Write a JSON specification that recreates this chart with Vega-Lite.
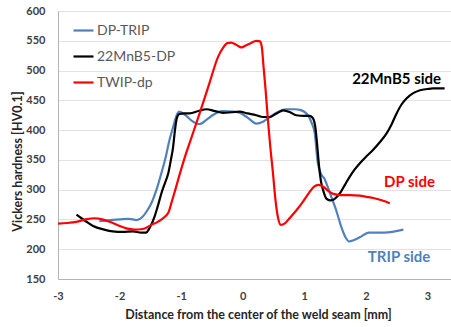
{
  "$schema": "https://vega.github.io/schema/vega-lite/v6.json",
  "width": 394,
  "height": 268,
  "autosize": "none",
  "padding": {"left": 58, "top": 11, "right": 0, "bottom": 48},
  "background": "#ffffff",
  "config": {
    "font": "Lato",
    "view": {"stroke": "#b4b4b4", "strokeWidth": 1},
    "axis": {
      "labelFont": "Lato",
      "labelFontWeight": "bold",
      "labelFontSize": 11,
      "labelColor": "#404040",
      "titleFont": "Lato",
      "titleFontWeight": "bold",
      "titleFontSize": 12.5,
      "titleColor": "#262626",
      "domainColor": "#b4b4b4",
      "ticks": false,
      "gridColor": "#e2e2e2",
      "gridWidth": 1
    },
    "legend": {
      "labelFont": "Lato",
      "labelFontSize": 14,
      "labelColor": "#595959",
      "padding": 0
    }
  },
  "datasets": {
    "hardness": [
      {"series": "DP-TRIP", "d": -2.33, "hv": 247},
      {"series": "DP-TRIP", "d": -2.15, "hv": 249},
      {"series": "DP-TRIP", "d": -2.0, "hv": 250},
      {"series": "DP-TRIP", "d": -1.85, "hv": 251},
      {"series": "DP-TRIP", "d": -1.72, "hv": 249},
      {"series": "DP-TRIP", "d": -1.63, "hv": 254},
      {"series": "DP-TRIP", "d": -1.55, "hv": 265},
      {"series": "DP-TRIP", "d": -1.48, "hv": 278},
      {"series": "DP-TRIP", "d": -1.4, "hv": 300},
      {"series": "DP-TRIP", "d": -1.32, "hv": 328},
      {"series": "DP-TRIP", "d": -1.25, "hv": 355},
      {"series": "DP-TRIP", "d": -1.19, "hv": 383},
      {"series": "DP-TRIP", "d": -1.13, "hv": 405},
      {"series": "DP-TRIP", "d": -1.08, "hv": 423},
      {"series": "DP-TRIP", "d": -1.03, "hv": 431},
      {"series": "DP-TRIP", "d": -0.93, "hv": 425},
      {"series": "DP-TRIP", "d": -0.83, "hv": 416},
      {"series": "DP-TRIP", "d": -0.7, "hv": 410},
      {"series": "DP-TRIP", "d": -0.58, "hv": 418},
      {"series": "DP-TRIP", "d": -0.49, "hv": 425},
      {"series": "DP-TRIP", "d": -0.33, "hv": 432},
      {"series": "DP-TRIP", "d": -0.15, "hv": 431},
      {"series": "DP-TRIP", "d": -0.05, "hv": 429},
      {"series": "DP-TRIP", "d": 0.08, "hv": 421},
      {"series": "DP-TRIP", "d": 0.22, "hv": 411},
      {"series": "DP-TRIP", "d": 0.33, "hv": 414},
      {"series": "DP-TRIP", "d": 0.44, "hv": 422},
      {"series": "DP-TRIP", "d": 0.58, "hv": 431},
      {"series": "DP-TRIP", "d": 0.71, "hv": 435},
      {"series": "DP-TRIP", "d": 0.85, "hv": 435},
      {"series": "DP-TRIP", "d": 0.93, "hv": 434},
      {"series": "DP-TRIP", "d": 1.06, "hv": 425},
      {"series": "DP-TRIP", "d": 1.12, "hv": 412},
      {"series": "DP-TRIP", "d": 1.17, "hv": 395},
      {"series": "DP-TRIP", "d": 1.22, "hv": 345},
      {"series": "DP-TRIP", "d": 1.28, "hv": 325},
      {"series": "DP-TRIP", "d": 1.33, "hv": 318},
      {"series": "DP-TRIP", "d": 1.38, "hv": 305},
      {"series": "DP-TRIP", "d": 1.45, "hv": 285},
      {"series": "DP-TRIP", "d": 1.52, "hv": 265},
      {"series": "DP-TRIP", "d": 1.6, "hv": 238},
      {"series": "DP-TRIP", "d": 1.67, "hv": 220},
      {"series": "DP-TRIP", "d": 1.73, "hv": 213},
      {"series": "DP-TRIP", "d": 1.8, "hv": 215},
      {"series": "DP-TRIP", "d": 1.9, "hv": 220},
      {"series": "DP-TRIP", "d": 2.05, "hv": 228},
      {"series": "DP-TRIP", "d": 2.3, "hv": 228},
      {"series": "DP-TRIP", "d": 2.61, "hv": 233},

      {"series": "22MnB5-DP", "d": -2.7, "hv": 258},
      {"series": "22MnB5-DP", "d": -2.55, "hv": 247},
      {"series": "22MnB5-DP", "d": -2.43, "hv": 239},
      {"series": "22MnB5-DP", "d": -2.25, "hv": 233},
      {"series": "22MnB5-DP", "d": -2.11, "hv": 230},
      {"series": "22MnB5-DP", "d": -1.95, "hv": 229},
      {"series": "22MnB5-DP", "d": -1.78, "hv": 230},
      {"series": "22MnB5-DP", "d": -1.65, "hv": 228},
      {"series": "22MnB5-DP", "d": -1.57, "hv": 228},
      {"series": "22MnB5-DP", "d": -1.51, "hv": 236},
      {"series": "22MnB5-DP", "d": -1.43, "hv": 255},
      {"series": "22MnB5-DP", "d": -1.38, "hv": 272},
      {"series": "22MnB5-DP", "d": -1.32, "hv": 294},
      {"series": "22MnB5-DP", "d": -1.26, "hv": 312},
      {"series": "22MnB5-DP", "d": -1.21, "hv": 327},
      {"series": "22MnB5-DP", "d": -1.17, "hv": 348},
      {"series": "22MnB5-DP", "d": -1.13, "hv": 372},
      {"series": "22MnB5-DP", "d": -1.1, "hv": 400},
      {"series": "22MnB5-DP", "d": -1.07, "hv": 420},
      {"series": "22MnB5-DP", "d": -1.03, "hv": 427},
      {"series": "22MnB5-DP", "d": -0.95, "hv": 428},
      {"series": "22MnB5-DP", "d": -0.86, "hv": 428},
      {"series": "22MnB5-DP", "d": -0.72, "hv": 432},
      {"series": "22MnB5-DP", "d": -0.59, "hv": 435},
      {"series": "22MnB5-DP", "d": -0.45, "hv": 432},
      {"series": "22MnB5-DP", "d": -0.32, "hv": 429},
      {"series": "22MnB5-DP", "d": -0.18, "hv": 430},
      {"series": "22MnB5-DP", "d": -0.05, "hv": 431},
      {"series": "22MnB5-DP", "d": 0.08, "hv": 428},
      {"series": "22MnB5-DP", "d": 0.22, "hv": 425},
      {"series": "22MnB5-DP", "d": 0.33, "hv": 422},
      {"series": "22MnB5-DP", "d": 0.44, "hv": 422},
      {"series": "22MnB5-DP", "d": 0.55, "hv": 428},
      {"series": "22MnB5-DP", "d": 0.66, "hv": 433},
      {"series": "22MnB5-DP", "d": 0.77, "hv": 430},
      {"series": "22MnB5-DP", "d": 0.87, "hv": 425},
      {"series": "22MnB5-DP", "d": 1.0, "hv": 424},
      {"series": "22MnB5-DP", "d": 1.09, "hv": 424},
      {"series": "22MnB5-DP", "d": 1.14, "hv": 420},
      {"series": "22MnB5-DP", "d": 1.18, "hv": 405},
      {"series": "22MnB5-DP", "d": 1.21, "hv": 375},
      {"series": "22MnB5-DP", "d": 1.24, "hv": 340},
      {"series": "22MnB5-DP", "d": 1.27, "hv": 315},
      {"series": "22MnB5-DP", "d": 1.31, "hv": 298},
      {"series": "22MnB5-DP", "d": 1.36, "hv": 285},
      {"series": "22MnB5-DP", "d": 1.42, "hv": 282},
      {"series": "22MnB5-DP", "d": 1.47, "hv": 283},
      {"series": "22MnB5-DP", "d": 1.53, "hv": 288},
      {"series": "22MnB5-DP", "d": 1.58, "hv": 294},
      {"series": "22MnB5-DP", "d": 1.66, "hv": 308},
      {"series": "22MnB5-DP", "d": 1.74, "hv": 322},
      {"series": "22MnB5-DP", "d": 1.82, "hv": 334},
      {"series": "22MnB5-DP", "d": 1.9, "hv": 344},
      {"series": "22MnB5-DP", "d": 2.0, "hv": 355},
      {"series": "22MnB5-DP", "d": 2.12, "hv": 367},
      {"series": "22MnB5-DP", "d": 2.23, "hv": 380},
      {"series": "22MnB5-DP", "d": 2.34, "hv": 395},
      {"series": "22MnB5-DP", "d": 2.42, "hv": 410},
      {"series": "22MnB5-DP", "d": 2.5, "hv": 428},
      {"series": "22MnB5-DP", "d": 2.58, "hv": 443},
      {"series": "22MnB5-DP", "d": 2.66, "hv": 453},
      {"series": "22MnB5-DP", "d": 2.77, "hv": 462},
      {"series": "22MnB5-DP", "d": 2.88, "hv": 467},
      {"series": "22MnB5-DP", "d": 3.0, "hv": 469},
      {"series": "22MnB5-DP", "d": 3.09, "hv": 470},
      {"series": "22MnB5-DP", "d": 3.28, "hv": 470},

      {"series": "TWIP-dp", "d": -3.0, "hv": 243},
      {"series": "TWIP-dp", "d": -2.85, "hv": 244},
      {"series": "TWIP-dp", "d": -2.7, "hv": 246},
      {"series": "TWIP-dp", "d": -2.55, "hv": 250},
      {"series": "TWIP-dp", "d": -2.4, "hv": 252},
      {"series": "TWIP-dp", "d": -2.28, "hv": 250},
      {"series": "TWIP-dp", "d": -2.16, "hv": 246},
      {"series": "TWIP-dp", "d": -2.02, "hv": 240},
      {"series": "TWIP-dp", "d": -1.89, "hv": 235},
      {"series": "TWIP-dp", "d": -1.76, "hv": 233},
      {"series": "TWIP-dp", "d": -1.62, "hv": 234},
      {"series": "TWIP-dp", "d": -1.48, "hv": 241},
      {"series": "TWIP-dp", "d": -1.38, "hv": 246},
      {"series": "TWIP-dp", "d": -1.27, "hv": 254},
      {"series": "TWIP-dp", "d": -1.2, "hv": 263},
      {"series": "TWIP-dp", "d": -1.16, "hv": 277},
      {"series": "TWIP-dp", "d": -1.1, "hv": 298},
      {"series": "TWIP-dp", "d": -1.02, "hv": 327},
      {"series": "TWIP-dp", "d": -0.92, "hv": 361},
      {"series": "TWIP-dp", "d": -0.83, "hv": 388},
      {"series": "TWIP-dp", "d": -0.7, "hv": 428},
      {"series": "TWIP-dp", "d": -0.54, "hv": 479},
      {"series": "TWIP-dp", "d": -0.4, "hv": 523},
      {"series": "TWIP-dp", "d": -0.32, "hv": 538},
      {"series": "TWIP-dp", "d": -0.25, "hv": 546},
      {"series": "TWIP-dp", "d": -0.19, "hv": 547},
      {"series": "TWIP-dp", "d": -0.1, "hv": 543},
      {"series": "TWIP-dp", "d": -0.02, "hv": 539},
      {"series": "TWIP-dp", "d": 0.05, "hv": 542},
      {"series": "TWIP-dp", "d": 0.13, "hv": 546},
      {"series": "TWIP-dp", "d": 0.22, "hv": 550},
      {"series": "TWIP-dp", "d": 0.28, "hv": 549},
      {"series": "TWIP-dp", "d": 0.31, "hv": 540},
      {"series": "TWIP-dp", "d": 0.34, "hv": 505},
      {"series": "TWIP-dp", "d": 0.37, "hv": 470},
      {"series": "TWIP-dp", "d": 0.41, "hv": 417},
      {"series": "TWIP-dp", "d": 0.45, "hv": 370},
      {"series": "TWIP-dp", "d": 0.49, "hv": 330},
      {"series": "TWIP-dp", "d": 0.53, "hv": 285},
      {"series": "TWIP-dp", "d": 0.57, "hv": 255},
      {"series": "TWIP-dp", "d": 0.62, "hv": 241},
      {"series": "TWIP-dp", "d": 0.68, "hv": 243},
      {"series": "TWIP-dp", "d": 0.76, "hv": 252},
      {"series": "TWIP-dp", "d": 0.87, "hv": 265},
      {"series": "TWIP-dp", "d": 0.98, "hv": 280},
      {"series": "TWIP-dp", "d": 1.08, "hv": 295},
      {"series": "TWIP-dp", "d": 1.16, "hv": 305},
      {"series": "TWIP-dp", "d": 1.23, "hv": 308},
      {"series": "TWIP-dp", "d": 1.31, "hv": 305},
      {"series": "TWIP-dp", "d": 1.4, "hv": 297},
      {"series": "TWIP-dp", "d": 1.47, "hv": 293},
      {"series": "TWIP-dp", "d": 1.6, "hv": 291},
      {"series": "TWIP-dp", "d": 1.74, "hv": 291},
      {"series": "TWIP-dp", "d": 1.9, "hv": 290},
      {"series": "TWIP-dp", "d": 2.01, "hv": 288},
      {"series": "TWIP-dp", "d": 2.12, "hv": 286},
      {"series": "TWIP-dp", "d": 2.23, "hv": 283},
      {"series": "TWIP-dp", "d": 2.32, "hv": 280},
      {"series": "TWIP-dp", "d": 2.39, "hv": 277}
    ],
    "sides": [
      {"label": "22MnB5 side", "d": 2.5, "hv": 486, "series": "22MnB5-DP"},
      {"label": "DP side", "d": 2.71, "hv": 313, "series": "TWIP-dp"},
      {"label": "TRIP side", "d": 2.54, "hv": 187, "series": "DP-TRIP"}
    ]
  },
  "encoding": {
    "x": {
      "field": "d",
      "type": "quantitative",
      "scale": {"domain": [-3, 3.4], "nice": false, "zero": false},
      "axis": {
        "title": "Distance from the center of the weld seam  [mm]",
        "values": [-3, -2, -1, 0, 1, 2, 3],
        "labelExpr": "'' + datum.value",
        "labelOverlap": false,
        "labelBound": false,
        "labelFlush": false,
        "grid": false,
        "labelPadding": 11,
        "titleX": 200,
        "titleY": 35,
        "titleBaseline": "middle"
      }
    },
    "y": {
      "field": "hv",
      "type": "quantitative",
      "scale": {"domain": [150, 600], "nice": false, "zero": false},
      "axis": {
        "title": "Vickers hardness  [HV0.1]",
        "values": [150, 200, 250, 300, 350, 400, 450, 500, 550, 600],
        "labelOverlap": false,
        "labelBound": false,
        "labelFlush": false,
        "grid": true,
        "labelPadding": 13,
        "titleX": -41,
        "titleY": 150,
        "titleBaseline": "middle"
      }
    },
    "color": {
      "field": "series",
      "type": "nominal",
      "scale": {
        "domain": ["DP-TRIP", "22MnB5-DP", "TWIP-dp"],
        "range": ["#4f81bd", "#000000", "#ff0000"]
      },
      "legend": {
        "title": null,
        "orient": "none",
        "legendX": 14,
        "legendY": 8,
        "symbolType": "stroke",
        "symbolSize": 400,
        "symbolStrokeWidth": 2.2,
        "labelOffset": 2,
        "rowPadding": 7
      }
    }
  },
  "layer": [
    {
      "data": {"name": "hardness"},
      "mark": {"type": "line", "interpolate": "monotone", "strokeWidth": 2.2, "clip": true}
    },
    {
      "data": {"name": "sides"},
      "mark": {"type": "text", "font": "Lato", "fontWeight": "bold", "fontSize": 15, "align": "center", "baseline": "middle"},
      "encoding": {
        "text": {"field": "label"}
      }
    }
  ]
}
